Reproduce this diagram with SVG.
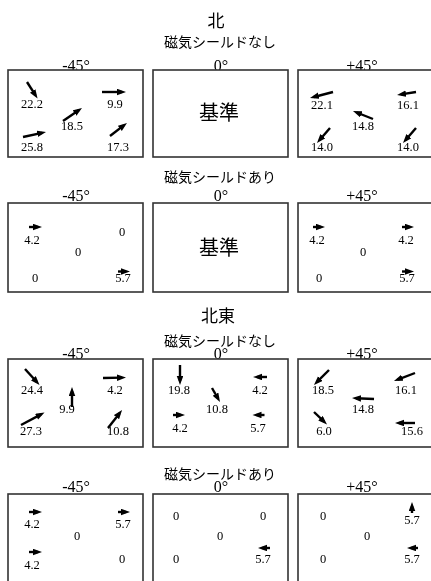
<svg xmlns="http://www.w3.org/2000/svg" width="431" height="581" viewBox="0 0 431 581">
<defs>
<marker id="ah" markerUnits="userSpaceOnUse" markerWidth="10" markerHeight="8" refX="5" refY="3.25" orient="auto">
<path d="M0,0 L9,3.25 L0,6.5 z" fill="#000"/>
</marker>
<filter id="gray" filterUnits="userSpaceOnUse" x="0" y="0" width="431" height="581">
<feColorMatrix type="saturate" values="0"/>
</filter>
<style>
.box{fill:#fff;stroke:#333;stroke-width:1.6}
.jp{font-family:"Noto Sans CJK JP","Noto Sans",sans-serif;fill:#000;text-anchor:middle}
.t1{font-size:17px}
.t2{font-size:14px}
.base{font-size:20px}
.deg{font-family:"Liberation Serif",serif;font-size:16px;text-anchor:middle;fill:#000}
.n{font-family:"Liberation Serif",serif;font-size:12.5px;text-anchor:middle;fill:#000}
.v{stroke:#000;stroke-width:2.4;fill:none;marker-end:url(#ah)}
</style>
</defs>
<g id="diagram" filter="url(#gray)">
<rect width="431" height="581" fill="#fff"/>

<g id="headings">
<text class="jp t1" x="216" y="27">北</text>
<text class="jp t2" x="220" y="47">磁気シールドなし</text>
<text class="deg" x="76" y="71">-45°</text>
<text class="deg" x="221" y="71">0°</text>
<text class="deg" x="362" y="71">+45°</text>
<text class="jp t2" x="220" y="182">磁気シールドあり</text>
<text class="deg" x="76" y="201">-45°</text>
<text class="deg" x="221" y="201">0°</text>
<text class="deg" x="362" y="201">+45°</text>
<text class="jp t1" x="218" y="322">北東</text>
<text class="jp t2" x="220" y="346">磁気シールドなし</text>
<text class="deg" x="76" y="359">-45°</text>
<text class="deg" x="221" y="359">0°</text>
<text class="deg" x="362" y="359">+45°</text>
<text class="jp t2" x="220" y="479">磁気シールドあり</text>
<text class="deg" x="76" y="492">-45°</text>
<text class="deg" x="221" y="492">0°</text>
<text class="deg" x="362" y="492">+45°</text>
</g>

<g id="n-noshield-m45">
<rect class="box" x="8" y="70" width="135" height="87"/>
<text class="n" x="32" y="108">22.2</text>
<text class="n" x="115" y="108">9.9</text>
<text class="n" x="72" y="130">18.5</text>
<text class="n" x="32" y="151">25.8</text>
<text class="n" x="118" y="151">17.3</text>
</g>
<g id="n-noshield-0">
<rect class="box" x="153" y="70" width="135" height="87"/>
<text class="jp base" x="219" y="120">基準</text>
</g>
<g id="n-noshield-p45">
<rect class="box" x="298" y="70" width="135" height="87"/>
<text class="n" x="322" y="109">22.1</text>
<text class="n" x="408" y="109">16.1</text>
<text class="n" x="363" y="130">14.8</text>
<text class="n" x="322" y="151">14.0</text>
<text class="n" x="408" y="151">14.0</text>
</g>

<g id="n-shield-m45">
<rect class="box" x="8" y="203" width="135" height="89"/>
<text class="n" x="32" y="244">4.2</text>
<text class="n" x="122" y="236">0</text>
<text class="n" x="78" y="256">0</text>
<text class="n" x="35" y="282">0</text>
<text class="n" x="123" y="282">5.7</text>
</g>
<g id="n-shield-0">
<rect class="box" x="153" y="203" width="135" height="89"/>
<text class="jp base" x="219" y="255">基準</text>
</g>
<g id="n-shield-p45">
<rect class="box" x="298" y="203" width="135" height="89"/>
<text class="n" x="317" y="244">4.2</text>
<text class="n" x="406" y="244">4.2</text>
<text class="n" x="363" y="256">0</text>
<text class="n" x="319" y="282">0</text>
<text class="n" x="407" y="282">5.7</text>
</g>

<g id="ne-noshield-m45">
<rect class="box" x="8" y="359" width="135" height="88"/>
<text class="n" x="32" y="394">24.4</text>
<text class="n" x="115" y="394">4.2</text>
<text class="n" x="67" y="413">9.9</text>
<text class="n" x="31" y="435">27.3</text>
<text class="n" x="118" y="435">10.8</text>
</g>
<g id="ne-noshield-0">
<rect class="box" x="153" y="359" width="135" height="88"/>
<text class="n" x="179" y="394">19.8</text>
<text class="n" x="260" y="394">4.2</text>
<text class="n" x="217" y="413">10.8</text>
<text class="n" x="180" y="432">4.2</text>
<text class="n" x="258" y="432">5.7</text>
</g>
<g id="ne-noshield-p45">
<rect class="box" x="298" y="359" width="135" height="88"/>
<text class="n" x="323" y="394">18.5</text>
<text class="n" x="406" y="394">16.1</text>
<text class="n" x="363" y="413">14.8</text>
<text class="n" x="324" y="435">6.0</text>
<text class="n" x="412" y="435">15.6</text>
</g>

<g id="ne-shield-m45">
<rect class="box" x="8" y="494" width="135" height="88"/>
<text class="n" x="32" y="528">4.2</text>
<text class="n" x="123" y="528">5.7</text>
<text class="n" x="77" y="540">0</text>
<text class="n" x="32" y="569">4.2</text>
<text class="n" x="122" y="563">0</text>
</g>
<g id="ne-shield-0">
<rect class="box" x="153" y="494" width="135" height="88"/>
<text class="n" x="176" y="520">0</text>
<text class="n" x="263" y="520">0</text>
<text class="n" x="220" y="540">0</text>
<text class="n" x="176" y="563">0</text>
<text class="n" x="263" y="563">5.7</text>
</g>
<g id="ne-shield-p45">
<rect class="box" x="298" y="494" width="135" height="88"/>
<text class="n" x="323" y="520">0</text>
<text class="n" x="412" y="524">5.7</text>
<text class="n" x="367" y="540">0</text>
<text class="n" x="323" y="563">0</text>
<text class="n" x="412" y="563">5.7</text>
</g>

<g id="connectors">
<line class="v" x1="27" y1="82" x2="35.4" y2="95.1"/>
<line class="v" x1="102" y1="92" x2="122" y2="92"/>
<line class="v" x1="63" y1="121" x2="78.7" y2="110.3"/>
<line class="v" x1="23" y1="137" x2="42.1" y2="132.8"/>
<line class="v" x1="110" y1="136" x2="123.8" y2="125.4"/>

<line class="v" x1="333" y1="92" x2="313.9" y2="97"/>
<line class="v" x1="416" y1="92" x2="401" y2="94.4"/>
<line class="v" x1="373" y1="119" x2="356.7" y2="112.5"/>
<line class="v" x1="330" y1="128" x2="319.6" y2="140"/>
<line class="v" x1="416" y1="128" x2="405.6" y2="140"/>

<line class="v" x1="29" y1="227" x2="38" y2="227"/>
<line class="v" x1="118" y1="271.5" x2="126" y2="271.5"/>
<line class="v" x1="313" y1="227" x2="321" y2="227"/>
<line class="v" x1="402" y1="227" x2="410" y2="227"/>
<line class="v" x1="402" y1="271.5" x2="410" y2="271.5"/>

<line class="v" x1="25" y1="369" x2="36.8" y2="382"/>
<line class="v" x1="103" y1="378" x2="122" y2="377.6"/>
<line class="v" x1="72" y1="407" x2="72" y2="391"/>
<line class="v" x1="21" y1="425" x2="41" y2="414.4"/>
<line class="v" x1="108" y1="428" x2="119.6" y2="413.2"/>

<line class="v" x1="180" y1="365" x2="180" y2="381"/>
<line class="v" x1="267" y1="377" x2="257" y2="377"/>
<line class="v" x1="212" y1="388" x2="218" y2="398.5"/>
<line class="v" x1="173" y1="415" x2="181" y2="415"/>
<line class="v" x1="264.5" y1="415" x2="256.5" y2="415"/>

<line class="v" x1="329" y1="370" x2="316.8" y2="382.2"/>
<line class="v" x1="415" y1="373" x2="397.7" y2="379.6"/>
<line class="v" x1="374" y1="399" x2="356" y2="398.2"/>
<line class="v" x1="314" y1="412" x2="324.1" y2="421.7"/>
<line class="v" x1="415" y1="423" x2="399" y2="423"/>

<line class="v" x1="29" y1="512" x2="38" y2="512"/>
<line class="v" x1="118" y1="512" x2="126" y2="512"/>
<line class="v" x1="29" y1="552" x2="38" y2="552"/>

<line class="v" x1="270" y1="548" x2="262" y2="548"/>

<line class="v" x1="412" y1="513" x2="412" y2="506"/>
<line class="v" x1="418" y1="548" x2="411" y2="548"/>
</g>
</g>
</svg>
